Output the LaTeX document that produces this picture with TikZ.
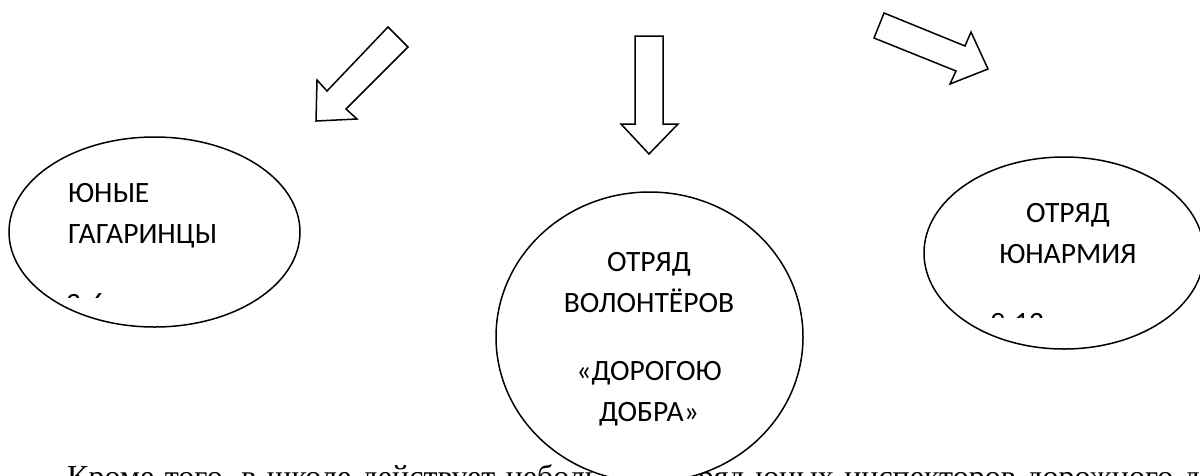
\documentclass[tikz,border=0pt]{standalone}
\usepackage{fontspec}
\setmainfont{Carlito}
\newfontfamily\bodyfont{Liberation Serif}
\usetikzlibrary{shapes.geometric}
\tikzset{
  blob/.style={ellipse,draw=black,fill=white,line width=1.5pt,inner sep=0pt},
  hollowarrow/.style={draw=black,fill=white,line width=1.5pt,line join=miter},
  label/.style={inner sep=0pt,font=\fontsize{29.5}{29.5}\selectfont},
}
\begin{document}
\begin{tikzpicture}[x=1pt,y=-1pt]
\useasboundingbox (0,0) rectangle (1200,475);
\clip (0,0) rectangle (1200,475);
\fill[white] (0,0) rectangle (1200,475);
\node[anchor=base west,inner sep=0pt,font=\bodyfont\fontsize{32}{32}\selectfont] (para) at (67,487)
  {\spaceskip=10.5pt plus 0pt Кроме того, в школе действует небольшой отряд юных инспекторов дорожного движения};
\draw[hollowarrow] (388,27) -- (408,47) -- (346,109) -- (357,119) -- (316,121) -- (317,80) -- (327,91) -- cycle;
\draw[hollowarrow] (635,36) -- (663,36) -- (663,124) -- (678,124) -- (649,154) -- (621,124) -- (635,124) -- cycle;
\draw[hollowarrow] (884,13) -- (874,38) -- (956,71) -- (950,84) -- (988,69) -- (971,32) -- (965,46) -- cycle;
\node[blob,minimum width=291pt,minimum height=190pt] (left) at (154.5,232) {};
\node[blob,minimum width=307pt,minimum height=290pt] (mid) at (649.5,337) {};
\node[blob,minimum width=280pt,minimum height=192pt] (right) at (1064,253) {};
\node[label,anchor=base west] (l1) at (68,202) {ЮНЫЕ};
\node[label,anchor=base west] (l2) at (68,243) {ГАГАРИНЦЫ};
\begin{scope}
\clip (60,270) rectangle (130,297);
\node[label,anchor=base west] (l3) at (66,313) {2-6};
\end{scope}
\node[label,anchor=base] (m1) at (649,271) {ОТРЯД};
\node[label,anchor=base] (m2) at (649,312) {ВОЛОНТЁРОВ};
\node[label,anchor=base] (m3) at (649,380) {«ДОРОГОЮ};
\node[label,anchor=base] (m4) at (649,421) {ДОБРА»};
\node[label,anchor=base] (r1) at (1068,222) {ОТРЯД};
\node[label,anchor=base] (r2) at (1068,263) {ЮНАРМИЯ};
\begin{scope}
\clip (980,290) rectangle (1060,317);
\node[label,anchor=base west] (r3) at (990,332) {9-12};
\end{scope}
\end{tikzpicture}
\end{document}
